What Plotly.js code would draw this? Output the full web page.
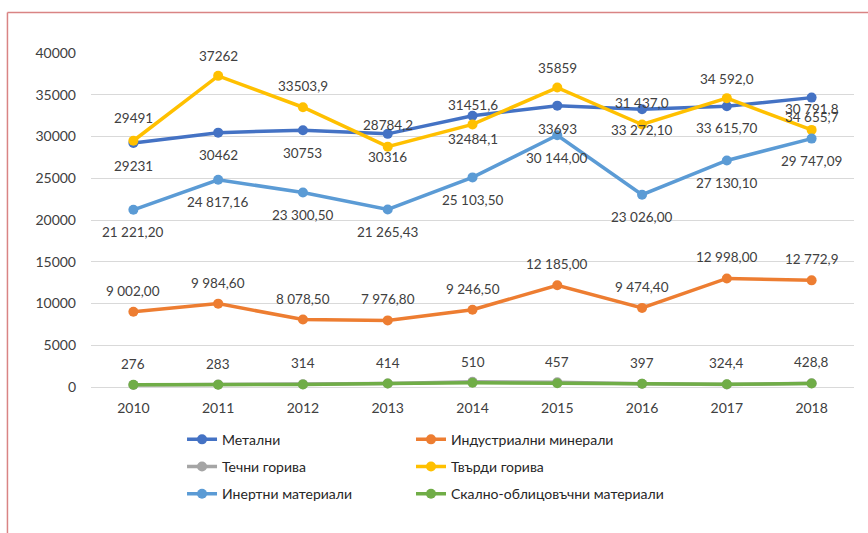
<!DOCTYPE html>
<html>
<head>
<meta charset="utf-8">
<script src="https://cdn.plot.ly/plotly-3.0.1.min.js"></script>
<style>html,body{margin:0;padding:0;background:#fff}#chart{width:868px;height:533px}</style>
</head>
<body>
<div id="chart"></div>
<script>
// ---- data ----
const years = ['2010','2011','2012','2013','2014','2015','2016','2017','2018'];

const metalni = [29231, 30462, 30753, 30316, 32484.1, 33693, 33272.1, 33615.7, 34655.7];
const metalniLabels = ['29231','30462','30753','28784,2','31451,6','33693','31 437,0','33 615,70','30 791,8'];

const industrial = [9002, 9984.6, 8078.5, 7976.8, 9246.5, 12185, 9474.4, 12998, 12772.9];
const industrialLabels = ['9 002,00','9 984,60','8 078,50','7 976,80','9 246,50','12 185,00','9 474,40','12 998,00','12 772,9'];

const liquidFuels = [250, 300, 330, 420, 620, 560, 380, 300, 450];

const solidFuels = [29491, 37262, 33503.9, 28784.2, 31451.6, 35859, 31437, 34592, 30791.8];
const solidLabels = ['29491','37262','33503,9','30316','32484,1','35859','33 272,10','34 592,0','34 655,7'];

const inert = [21221.2, 24817.16, 23300.5, 21265.43, 25103.5, 30144, 23026, 27130.1, 29747.09];
const inertLabels = ['21 221,20','24 817,16','23 300,50','21 265,43','25 103,50','30 144,00','23 026,00','27 130,10','29 747,09'];

const stone = [276, 283, 314, 414, 510, 457, 397, 324.4, 428.8];
const stoneLabels = ['276','283','314','414','510','457','397','324,4','428,8'];

const seriesNames = ['Метални','Индустриални минерали','Течни горива','Твърди горива','Инертни материали','Скално-облицовъчни материали'];

// ---- label offsets in px (style: label centre relative to its point, + = up) ----
const metalniShift = [-23, -22, -23, 9, 11, -23, 6, -22, -11];
const solidShift = [23, 20, 21, -10, -15, 20, -5, 19, 13];
const inertShift = -22.5;
const industrialShift = 21;
const stoneShift = 21;

const FONT = 'Lato, "Open Sans", "DejaVu Sans", sans-serif';
const labelFont = {family: FONT, size: 13.5, color: '#404040'};

function tr(name, y, color, legend, group) {
  return {
    type: 'scatter', mode: 'lines+markers',
    name: name, x: years, y: y,
    line: {color: color, width: 3.5},
    marker: {color: color, size: 10},
    legend: legend, legendgroup: group,
    hoverinfo: 'x+y+name', cliponaxis: false
  };
}

const data = [
  tr(seriesNames[0], metalni, '#4472C4', 'legend', 'g1'),
  tr(seriesNames[1], industrial, '#ED7D31', 'legend2', 'g2'),
  tr(seriesNames[2], liquidFuels, '#A5A5A5', 'legend', 'g3'),
  tr(seriesNames[3], solidFuels, '#FFC000', 'legend2', 'g4'),
  tr(seriesNames[4], inert, '#5B9BD5', 'legend', 'g5'),
  tr(seriesNames[5], stone, '#70AD47', 'legend2', 'g6')
];

function labels(values, texts, shift) {
  return values.map((v, i) => ({
    x: i, y: v, xref: 'x', yref: 'y', text: texts[i], showarrow: false,
    xanchor: 'center', yanchor: 'middle',
    yshift: Array.isArray(shift) ? shift[i] : shift, font: labelFont
  }));
}

const annotations = [].concat(
  labels(metalni, metalniLabels, metalniShift),
  labels(industrial, industrialLabels, industrialShift),
  labels(solidFuels, solidLabels, solidShift),
  labels(inert, inertLabels, inertShift),
  labels(stone, stoneLabels, stoneShift)
);

const legendCommon = {
  orientation: 'v', yanchor: 'top', xanchor: 'left', y: -0.11,
  font: {family: FONT, size: 14, color: '#262626'},
  itemwidth: 30, tracegroupgap: 6, bgcolor: 'rgba(0,0,0,0)',
  traceorder: 'grouped', itemclick: false, itemdoubleclick: false
};

const layout = {
  width: 868, height: 533,
  margin: {l: 91, r: 14, t: 53, b: 146},
  paper_bgcolor: '#ffffff', plot_bgcolor: '#ffffff',
  font: {family: FONT, size: 13.5, color: '#404040'},
  showlegend: true,
  legend: Object.assign({}, legendCommon, {x: 0.1193}),
  legend2: Object.assign({}, legendCommon, {x: 0.4194}),
  xaxis: {
    type: 'category', categoryarray: years, range: [-0.5, years.length - 0.5], autorange: false,
    showgrid: false, zeroline: false, showline: false,
    ticks: '', tickfont: {family: FONT, size: 14, color: '#404040'},
    ticklabelstandoff: 11, fixedrange: true
  },
  yaxis: {
    range: [0, 40000], dtick: 5000, tickformat: 'd',
    showgrid: true, gridcolor: '#d9d9d9', gridwidth: 1,
    zeroline: true, zerolinecolor: '#d9d9d9', zerolinewidth: 1,
    showline: false, ticks: '',
    tickfont: {family: FONT, size: 14, color: '#404040'},
    ticklabelstandoff: 14, fixedrange: true
  },
  annotations: annotations,
  shapes: [
    {type: 'line', xref: 'paper', yref: 'paper', x0: -0.1095, x1: 1.02, y0: 1.1209, y1: 1.1209,
     line: {color: '#d98484', width: 1.5}},
    {type: 'line', xref: 'paper', yref: 'paper', x0: -0.1095, x1: -0.1095, y0: 1.1209, y1: -0.45,
     line: {color: '#d98484', width: 1.5}}
  ]
};

Plotly.newPlot('chart', data, layout, {displayModeBar: false, staticPlot: true});
</script>
</body>
</html>
